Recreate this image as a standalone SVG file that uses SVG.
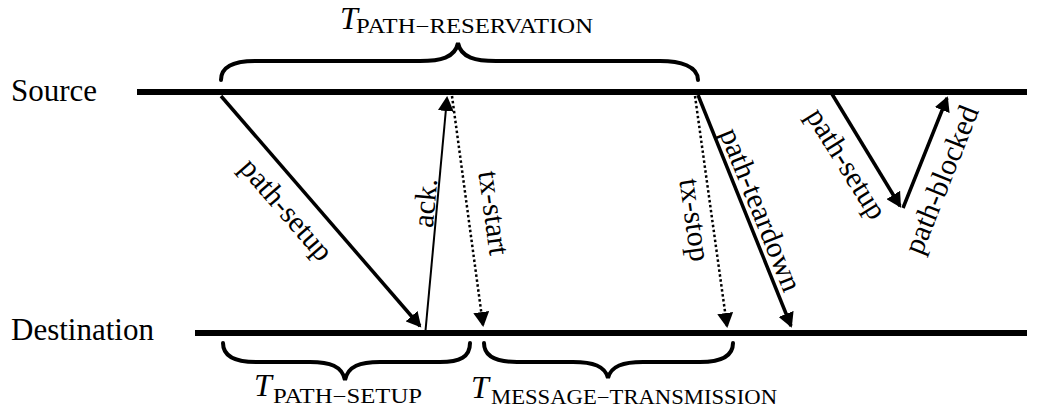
<svg xmlns="http://www.w3.org/2000/svg" width="1037" height="410" viewBox="0 0 1037 410">
<style>
.lbl{font-family:"Liberation Serif","Times New Roman",serif;font-size:30px;fill:#000;text-anchor:middle}
.name{font-family:"Liberation Serif","Times New Roman",serif;font-size:31px;fill:#000}
.tm{font-family:"Liberation Serif","Times New Roman",serif;font-style:italic;font-size:32px;fill:#000}
.sub{font-family:"Liberation Serif","Times New Roman",serif;font-size:20px;fill:#000}
.axis{stroke:#000;stroke-width:6;fill:none}
.msg{stroke:#000;stroke-width:3.5;fill:none}
.thin{stroke:#000;stroke-width:2;fill:none}
.dot{stroke:#000;stroke-width:2.5;stroke-dasharray:2.5 2.5;fill:none}
.brace{stroke:#000;stroke-width:4;fill:none;stroke-linecap:round}
</style>
<defs>
<marker id="ah" markerUnits="userSpaceOnUse" markerWidth="16" markerHeight="16" refX="13" refY="8" orient="auto">
<path d="M0,0 L15,8 L0,16 z" fill="#000"/>
</marker>
</defs>
<g id="source">
<text class="name" x="11" y="101">Source</text>
<line class="axis" x1="137" y1="92" x2="1027" y2="92"/>
</g>
<g id="destination">
<text class="name" x="11" y="340">Destination</text>
<line class="axis" x1="195" y1="333" x2="1027" y2="333"/>
</g>
<g id="connectors">
<line class="msg" x1="221" y1="96" x2="420" y2="326" marker-end="url(#ah)"/>
<line class="thin" x1="425" y1="336" x2="447" y2="98" marker-end="url(#ah)"/>
<line class="dot" x1="452" y1="96" x2="483" y2="325" marker-end="url(#ah)"/>
<line class="dot" x1="695" y1="96" x2="727" y2="326" marker-end="url(#ah)"/>
<line class="msg" x1="698" y1="95" x2="791" y2="326" marker-end="url(#ah)"/>
<line class="msg" x1="832" y1="94" x2="900" y2="206" marker-end="url(#ah)"/>
<line class="msg" x1="903" y1="208" x2="947" y2="98" marker-end="url(#ah)"/>
</g>
<g id="labels">
<text class="lbl" transform="translate(286,210) rotate(49.2)" y="9">path-setup</text>
<text class="lbl" transform="translate(426,203) rotate(-84.6)" y="9">ack.</text>
<text class="lbl" transform="translate(493,213) rotate(82.2)" y="9">tx-start</text>
<text class="lbl" transform="translate(694,220) rotate(81.9)" y="9">tx-stop</text>
<text class="lbl" transform="translate(760,210) rotate(68)" y="9">path-teardown</text>
<text class="lbl" transform="translate(846,164) rotate(58)" y="9">path-setup</text>
<text class="lbl" transform="translate(942,180) rotate(-68.3)" y="9">path-blocked</text>
</g>
<g id="t-path-reservation">
<path class="brace" d="M221,80 C221,66 235,61 255,61 L420,61 C440,61 455,58 458,43 C461,58 476,61 496,61 L660,61 C680,61 698,66 698,80"/>
<text class="tm" x="340" y="29">T</text>
<text class="sub" x="356" y="33" textLength="237" lengthAdjust="spacingAndGlyphs">PATH−RESERVATION</text>
</g>
<g id="t-path-setup">
<path class="brace" d="M223,343 C223,357 236,362 256,362 L310,362 C330,362 342,366 345,380 C348,366 360,362 380,362 L440,362 C460,362 470,357 470,343"/>
<text class="tm" x="254" y="396">T</text>
<text class="sub" x="273" y="403" textLength="149" lengthAdjust="spacingAndGlyphs">PATH−SETUP</text>
</g>
<g id="t-message-transmission">
<path class="brace" d="M484,343 C484,357 497,362 517,362 L573,362 C593,362 605,366 608,378 C611,366 623,362 643,362 L700,362 C720,362 733,357 733,343"/>
<text class="tm" x="471" y="398">T</text>
<text class="sub" x="491" y="404" textLength="286" lengthAdjust="spacingAndGlyphs">MESSAGE−TRANSMISSION</text>
</g>
</svg>
